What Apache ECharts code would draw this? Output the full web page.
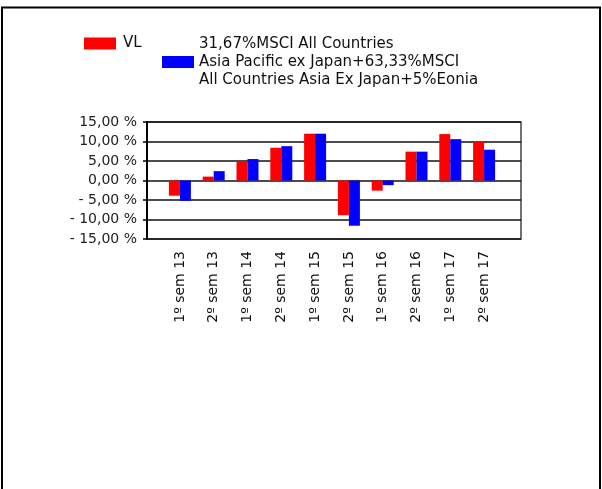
<!DOCTYPE html>
<html>
<head>
<meta charset="utf-8">
<script src="https://cdn.jsdelivr.net/npm/echarts@6/dist/echarts.min.js"></script>
<style>
html,body{margin:0;padding:0;background:#fff;}
#chart{width:602px;height:489px;}
</style>
</head>
<body>
<div id="chart"></div>
<script>
var categories = ['1º sem 13','2º sem 13','1º sem 14','2º sem 14','1º sem 15','2º sem 15','1º sem 16','2º sem 16','1º sem 17','2º sem 17'];
var seriesVL = [-3.9, 1.0, 5.0, 8.4, 12.0, -8.9, -2.6, 7.4, 11.9, 10.1];
var seriesBench = [-5.2, 2.4, 5.5, 8.8, 12.0, -11.6, -1.2, 7.4, 10.6, 7.9];
var nameVL = 'VL';
var nameBench = '31,67%MSCI All Countries\nAsia Pacific ex Japan+63,33%MSCI\nAll Countries Asia Ex Japan+5%Eonia';
var yTicks = [-15, -10, -5, 0, 5, 10, 15];

var FONT = 'DejaVu Sans';
function fmt(v){
  var s = Math.abs(v).toFixed(2).replace('.', ',') + ' %';
  return v < 0 ? '- ' + s : s;
}

var chart = echarts.init(document.getElementById('chart'), null, {renderer:'canvas'});
chart.setOption({
  animation:false,
  backgroundColor:'#fff',
  graphic:[{
    type:'rect', z:-10,
    shape:{x:2, y:7.5, width:598, height:500},
    style:{fill:'none', stroke:'#000', lineWidth:2}
  }],
  legend:[{
    data:[{name:nameVL, icon:'rect'}], left:84, top:34.5, padding:0,
    itemWidth:32, itemHeight:12, itemGap:10,
    textStyle:{fontFamily:FONT, fontSize:15, color:'#111', lineHeight:18, padding:[0,0,0,2]}
  },{
    data:[{name:nameBench, icon:'rect'}], left:162, top:35, padding:0,
    itemWidth:32, itemHeight:12,
    textStyle:{fontFamily:FONT, fontSize:15, color:'#111', lineHeight:18}
  }],
  grid:[
    {left:147, right:81, top:122, bottom:250, show:true, borderColor:'#444', borderWidth:1.5, backgroundColor:'transparent'},
    {left:163, right:101, top:122, bottom:250}
  ],
  xAxis:[
    {gridIndex:0, type:'value', show:false, min:0, max:1},
    {gridIndex:1, type:'category', data:categories, boundaryGap:true,
     axisLine:{show:false}, axisTick:{show:false},
     axisLabel:{rotate:90, margin:12, fontFamily:FONT, fontSize:14, color:'#111', interval:0}}
  ],
  yAxis:[
    {gridIndex:0, type:'value', min:yTicks[0], max:yTicks[yTicks.length-1], interval:5,
     axisLine:{show:true, lineStyle:{color:'#000', width:2}},
     axisTick:{show:true, length:4, lineStyle:{color:'#000', width:1.5}},
     axisLabel:{margin:10, fontFamily:FONT, fontSize:14, color:'#222', formatter:fmt},
     splitLine:{show:true, lineStyle:{color:'#111', width:1.5}}},
    {gridIndex:1, type:'value', min:yTicks[0], max:yTicks[yTicks.length-1], interval:5, show:false,
     splitLine:{show:false}}
  ],
  series:[
    {name:nameVL, type:'bar', xAxisIndex:1, yAxisIndex:1, data:seriesVL, barWidth:11, barGap:'0%',
     itemStyle:{color:'#ff0000'}},
    {name:nameBench, type:'bar', xAxisIndex:1, yAxisIndex:1, data:seriesBench, barWidth:11, barGap:'0%',
     itemStyle:{color:'#0000ff'}}
  ]
});
</script>
</body>
</html>
